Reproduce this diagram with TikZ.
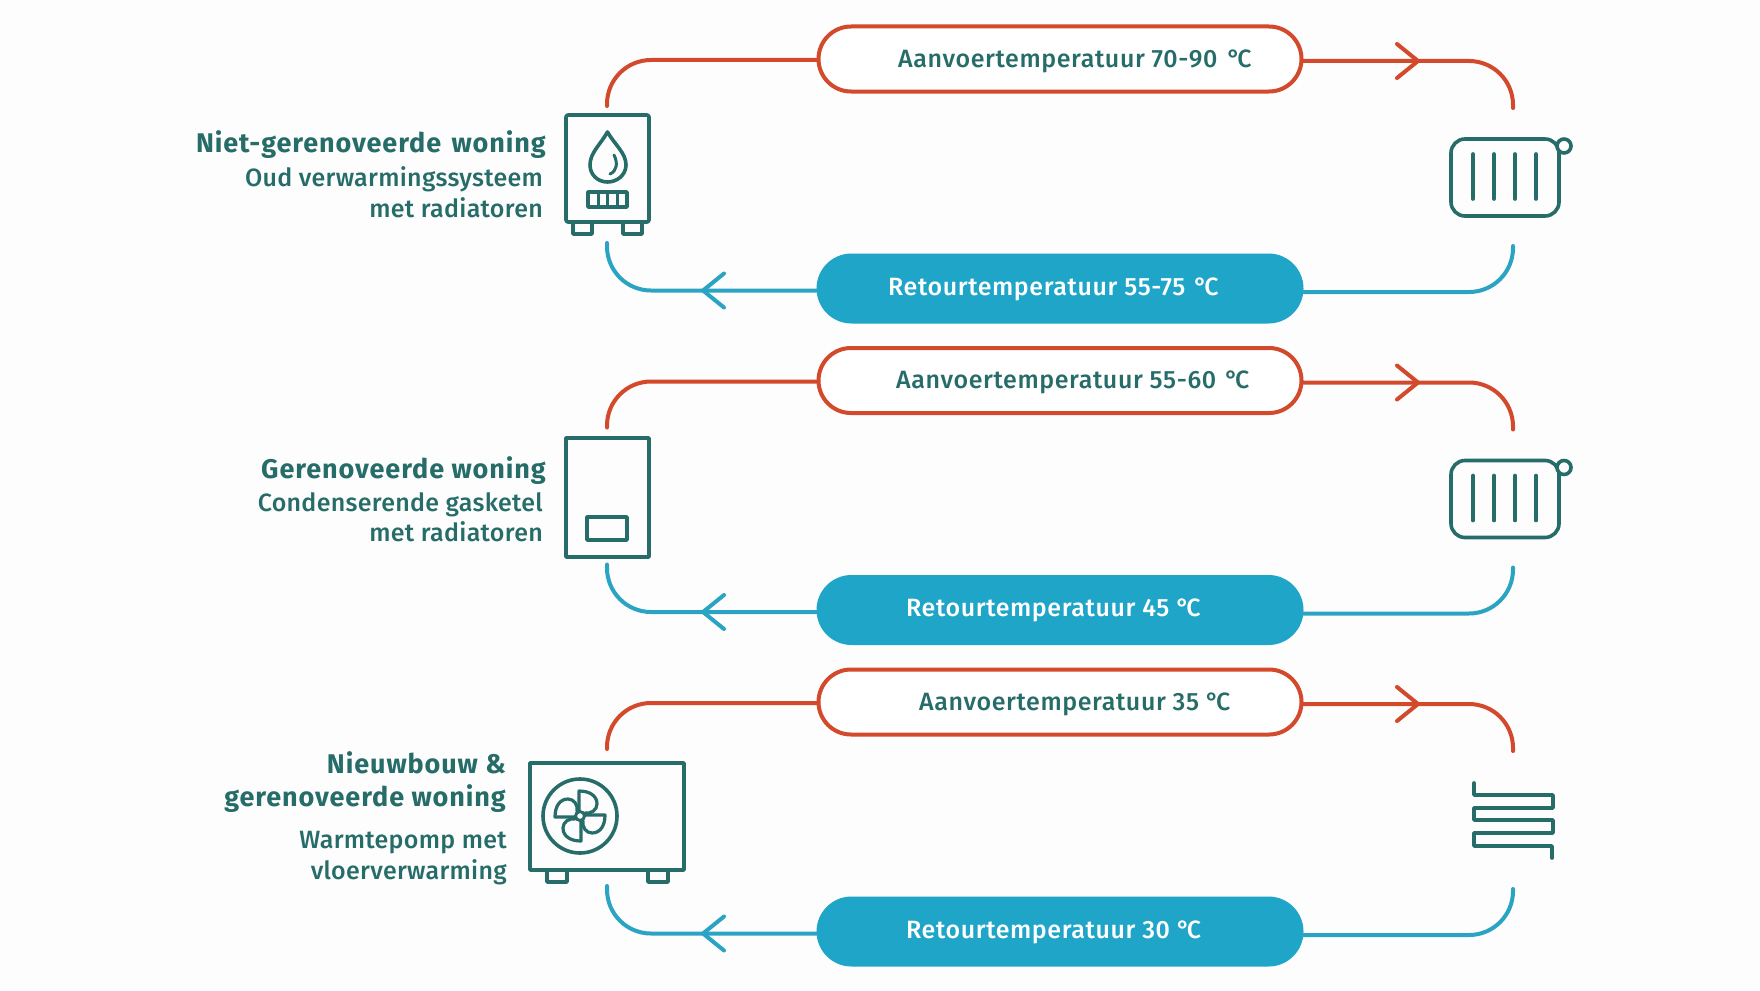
\documentclass[tikz,border=0pt]{standalone}
\usepackage{fontspec}
\setmainfont{Fira Sans}
\newfontfamily\medf{Fira Sans Medium}[LetterSpace=1.2]
\newfontfamily\lblf{Fira Sans Medium}[LetterSpace=2.4]
\newfontfamily\boldf{Fira Sans}[UprightFont=* Bold,LetterSpace=3.4]
\usetikzlibrary{shapes.misc,calc}
\definecolor{rd}{HTML}{D3492B}
\definecolor{bl}{HTML}{2BA4C3}
\definecolor{blf}{HTML}{1FA5C8}
\definecolor{tl}{HTML}{266C68}
\definecolor{bgc}{HTML}{FDFDFD}
\newcommand{\dg}{°\kern-3pt C}
\tikzset{
 x=1pt,y=-1pt,
 pill/.style={rounded rectangle,minimum width=483pt,inner sep=0pt,line width=4pt},
 supply/.style={pill,draw=rd,fill=white,minimum height=65pt},
 ret/.style={pill,draw=blf,fill=blf,minimum height=66pt},
 redline/.style={draw=rd,line width=4pt,line cap=round,line join=round},
 blueline/.style={draw=bl,line width=4pt,line cap=round,line join=round},
 icon/.style={draw=tl,line width=3.6pt,line cap=round,line join=round},
 tlabel/.style={anchor=base west,inner sep=0pt,text=tl,font=\lblf\fontsize{25}{25}\selectfont},
 wlabel/.style={anchor=base west,inner sep=0pt,text=white,font=\lblf\fontsize{25}{25}\selectfont},
 head/.style={anchor=base east,inner sep=0pt,text=tl,font=\boldf\fontsize{27}{27}\selectfont},
 sub/.style={anchor=base east,inner sep=0pt,text=tl,font=\medf\fontsize{25}{25}\selectfont},
}
\newcommand{\radiator}[1]{%
 \draw[icon,rounded corners=14pt] (1451,139) rectangle (1559,216);
 \foreach \bx in {1473,1494,1515,1536}{\draw[icon] (\bx,154) -- (\bx,199);}
 \draw[icon,fill=bgc] (1564,146) circle[radius=7];
}
\newcommand{\loopRow}[7]{% name, offset, supply text, x, return text, x
 \begin{scope}[shift={(0,#2)}]
 \node[supply] (s#1) at (1060,59) {};
 \node[ret] (r#1) at (1060,288.5) {};
 \node[tlabel] (st#1) at (#4,67) {#3};
 \node[wlabel] (rt#1) at (#6,295) {#5};
 \coordinate (a#1) at (607,106);
 \coordinate (b#1) at (1513,108);
 \coordinate (c#1) at (607,243);
 \coordinate (d#1) at (1513,246);
 \draw[redline,rounded corners=44pt] (a#1) |- ($(s#1.west)+(0,1)$);
 \draw[redline,rounded corners=44pt] (b#1) |- ($(s#1.east)+(0,2)$);
 \draw[blueline,rounded corners=44pt] (c#1) |- ($(r#1.west)+(0,2)$);
 \draw[blueline,rounded corners=44pt] (d#1) |- ($(r#1.east)+(0,3.5)$);
 \coordinate (ha#1) at (1418,61);
 \coordinate (hb#1) at (703,290.5);
 \draw[redline] ($(ha#1)+(-21,-17)$) -- (ha#1) -- ($(ha#1)+(-21,17)$);
 \draw[blueline] ($(hb#1)+(21,-17)$) -- (hb#1) -- ($(hb#1)+(21,17)$);
 #7
 \end{scope}
}
\begin{document}
\begin{tikzpicture}
\path[fill=bgc] (0,0) rectangle (1760,990);
\useasboundingbox (0,0) rectangle (1760,990);
\loopRow{A}{0}{Aanvoertemperatuur 70-90\kern3pt{} \dg}{898}{Retourtemperatuur 55-75\kern2pt{} \dg}{888}{\radiator{}}{}
\loopRow{B}{321.5}{Aanvoertemperatuur 55-60\kern2pt{} \dg}{896}{Retourtemperatuur 45 \dg}{906}{\radiator{}}
\loopRow{C}{643}{Aanvoertemperatuur 35 \dg}{919}{Retourtemperatuur 30 \dg}{906}{}
% boiler
\draw[icon,rounded corners=2pt] (566,115) rectangle (649,222);
\draw[icon] (573,222) |- (592,234) -- (592,222);
\draw[icon] (623,222) |- (642,234) -- (642,222);
\draw[icon] (607.5,132) .. controls (600,145) and (590,153) .. (590,165) .. controls (590,175) and (598,182) .. (607.5,182) .. controls (617,182) and (626,175) .. (626,165) .. controls (626,153) and (615,145) .. (607.5,132) -- cycle;
\draw[icon,line width=3pt] (614,155) .. controls (618,163) and (617,171) .. (610,174);
\draw[icon] (588,192) rectangle (627,207);
\foreach \dx in {598,607.5,617}{\draw[icon,line width=3pt] (\dx,192) -- (\dx,207);}
% gas boiler
\draw[icon] (566,438) rectangle (649,557);
\draw[icon] (587,517) rectangle (627,540);
% heat pump
\draw[icon] (530,763) rectangle (684,870);
\draw[icon] (547,870) |- (567,882) -- (567,870);
\draw[icon] (648,870) |- (668,882) -- (668,870);
\draw[icon] (580,816) circle[radius=37];
\draw[icon,line width=3pt] (580,816) circle[radius=4.5];
\foreach \ang in {0,90,180,270}{
 \draw[icon,line width=3.2pt,shift={(580,816)},rotate=\ang] (-5,1) -- (-25,1) .. controls (-25,-10) and (-20,-17) .. (-12,-17) .. controls (-6,-17) and (-2,-11) .. (-3,-5);
}
% floor heating
\draw[icon] (1474,783) -- (1474,795) -- (1553,795) -- (1553,808) -- (1474,808) -- (1474,820) -- (1553,820) -- (1553,833) -- (1474,833) -- (1474,846) -- (1552,846) -- (1552,858);
% headings
\node[head] (h1) at (546,152) {Niet-gerenoveerde\kern3pt{} woning};
\node[sub] (h1a) at (543,186) {Oud verwarmingssysteem};
\node[sub] (h1b) at (543,217) {met radiatoren};
\node[head] (h2) at (546,478) {Gerenoveerde woning};
\node[sub] (h2a) at (543,511) {Condenserende gasketel};
\node[sub] (h2b) at (543,541) {met radiatoren};
\node[head] (h3) at (506,773) {Nieuwbouw \&};
\node[head] (h3a) at (506,806) {gerenoveerde woning};
\node[sub] (h3b) at (507,848) {Warmtepomp met};
\node[sub] (h3c) at (507,879) {vloerverwarming};
\end{tikzpicture}
\end{document}
